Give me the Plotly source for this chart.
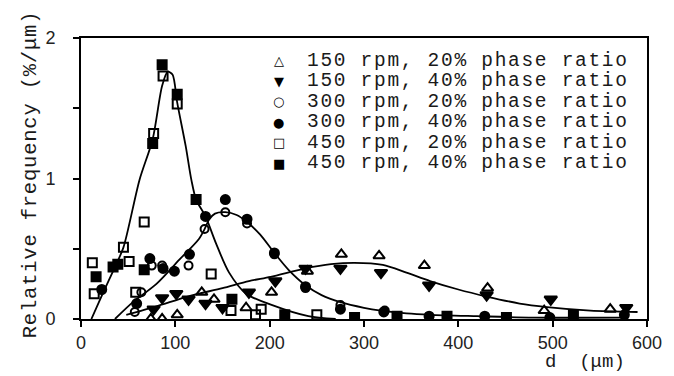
import plotly.graph_objects as go

# ---------------- data ----------------
# 150 rpm, 20% phase ratio (open up-triangles)
d_150_20 = [74, 86, 102, 128, 141, 175, 202, 240, 276, 316, 364, 431, 491, 561]
v_150_20 = [0.0, 0.0, 0.03, 0.19, 0.14, 0.08, 0.19, 0.34, 0.46, 0.45, 0.38, 0.22, 0.06, 0.07]
# 150 rpm, 40% phase ratio (filled down-triangles)
d_150_40 = [77, 86, 101, 114, 132, 150, 178, 206, 238, 275, 318, 369, 430, 498, 578]
v_150_40 = [0.07, 0.15, 0.18, 0.14, 0.11, 0.08, 0.19, 0.27, 0.36, 0.36, 0.33, 0.24, 0.17, 0.14, 0.08]
# 300 rpm, 20% phase ratio (open circles)
d_300_20 = [57, 64, 75, 86, 114, 131, 153, 176, 205, 238, 275, 322]
v_300_20 = [0.05, 0.19, 0.38, 0.38, 0.38, 0.64, 0.76, 0.68, 0.46, 0.22, 0.10, 0.06]
# 300 rpm, 40% phase ratio (filled circles)
d_300_40 = [22, 59, 73, 87, 99, 115, 132, 153, 176, 205, 238, 275, 321, 369, 428, 497, 576]
v_300_40 = [0.21, 0.11, 0.43, 0.36, 0.34, 0.46, 0.73, 0.85, 0.71, 0.47, 0.23, 0.07, 0.05, 0.02, 0.02, 0.01, 0.03]
# 450 rpm, 20% phase ratio (open squares)
d_450_20 = [12, 14, 45, 51, 58, 67, 77, 87, 102, 138, 159, 185, 191, 250]
v_450_20 = [0.40, 0.18, 0.51, 0.41, 0.19, 0.69, 1.32, 1.73, 1.53, 0.32, 0.06, 0.03, 0.07, 0.03]
# 450 rpm, 40% phase ratio (filled squares)
d_450_40 = [16, 34, 39, 67, 76, 86, 102, 122, 160, 216, 290, 335, 388, 451, 522]
v_450_40 = [0.30, 0.37, 0.39, 0.35, 1.25, 1.81, 1.60, 0.85, 0.14, 0.03, 0.01, 0.02, 0.02, 0.01, 0.03]

# fitted curves
c150_d = [48, 80, 113, 150, 178, 201, 238, 265, 290, 320, 345, 370, 400, 430, 465, 494, 540, 590]
c150_v = [0.03, 0.09, 0.16, 0.22, 0.27, 0.30, 0.36, 0.39, 0.40, 0.385, 0.33, 0.27, 0.21, 0.16, 0.11, 0.085, 0.06, 0.05]
c300_d = [36, 55, 80, 104, 125, 131, 136, 142, 153, 165, 176, 190, 205, 220, 238, 255, 275, 300, 318, 345, 370, 420, 480, 580]
c300_v = [0.0, 0.12, 0.25, 0.42, 0.57, 0.64, 0.71, 0.75, 0.76, 0.74, 0.69, 0.60, 0.47, 0.35, 0.24, 0.17, 0.12, 0.08, 0.06, 0.04, 0.03, 0.02, 0.01, 0.01]
c450_d = [11, 23, 36, 45, 62, 76, 86, 92, 97, 102, 111, 117, 122, 132, 143, 157, 175, 202, 241, 270]
c450_v = [0.0, 0.18, 0.37, 0.51, 0.99, 1.28, 1.66, 1.76, 1.74, 1.54, 1.23, 0.99, 0.85, 0.73, 0.54, 0.33, 0.18, 0.10, 0.02, 0.0]

x_ticks = [0, 100, 200, 300, 400, 500, 600]
y_ticks = [0, 0.5, 1, 1.5, 2]
y_tick_text = ["0", "", "1", "", "2"]

legend_labels = [
    "150 rpm, 20% phase ratio",
    "150 rpm, 40% phase ratio",
    "300 rpm, 20% phase ratio",
    "300 rpm, 40% phase ratio",
    "450 rpm, 20% phase ratio",
    "450 rpm, 40% phase ratio",
]
legend_symbols = ["\u25B3", "\u25BC", "\u25CB", "\u25CF", "\u25A1", "\u25A0"]

# ---------------- figure ----------------
W, H = 674, 376
ML, MR, MT, MB = 81, 24, 38, 57
PW, PH = W - ML - MR, H - MT - MB

MONO = "Liberation Mono"
TXT = "#1a1a1a"

fig = go.Figure()

for cd, cv in [(c150_d, c150_v), (c300_d, c300_v), (c450_d, c450_v)]:
    fig.add_trace(go.Scatter(x=cd, y=cv, mode="lines", showlegend=False,
                             line=dict(color="black", width=1.8, shape="spline", smoothing=0.8),
                             hoverinfo="skip"))

series = [
    (d_150_20, v_150_20, "triangle-up-open", legend_labels[0], 10),
    (d_150_40, v_150_40, "triangle-down", legend_labels[1], 11),
    (d_300_20, v_300_20, "circle-open", legend_labels[2], 8),
    (d_300_40, v_300_40, "circle", legend_labels[3], 9),
    (d_450_20, v_450_20, "square-open", legend_labels[4], 9),
    (d_450_40, v_450_40, "square", legend_labels[5], 9),
]
for dx, vy, sym, name, sz in series:
    fig.add_trace(go.Scatter(x=dx, y=vy, mode="markers", name=name, showlegend=False,
                             marker=dict(symbol=sym, size=sz, color="black",
                                         line=dict(color="black", width=2))))

# legend built from text
row0, row_gap = 61, 20.4
for i, (sym, lab) in enumerate(zip(legend_symbols, legend_labels)):
    py = row0 + i * row_gap
    fig.add_annotation(xref="paper", yref="paper", x=(280 - ML) / PW, y=(MT + PH - py) / PH,
                       text="<b>" + sym + "</b>", showarrow=False, xanchor="center", yanchor="middle",
                       font=dict(family="DejaVu Sans", size=13, color="black"))
    fig.add_annotation(xref="paper", yref="paper", x=(306 - ML) / PW, y=(MT + PH - py) / PH,
                       text='<span style="letter-spacing:1.7px">' + lab + "</span>",
                       showarrow=False, xanchor="left", yanchor="middle",
                       font=dict(family=MONO, size=19.5, color=TXT))

# axis titles
fig.add_annotation(xref="paper", yref="paper", x=(30 - ML) / PW, y=(MT + PH - 174) / PH,
                   text='<span style="letter-spacing:0.8px">Relative frequency (%/\u03bcm)</span>',
                   textangle=-90, showarrow=False,
                   xanchor="center", yanchor="middle",
                   font=dict(family=MONO, size=20.5, color=TXT))
fig.add_annotation(xref="paper", yref="paper", x=(588 - ML) / PW, y=(MT + PH - 362) / PH,
                   text="d\u00a0\u00a0(\u03bcm)", showarrow=False,
                   xanchor="center", yanchor="middle",
                   font=dict(family=MONO, size=19, color=TXT))

fig.update_layout(
    width=W, height=H, autosize=False,
    margin=dict(l=ML, r=MR, t=MT, b=MB, pad=0),
    paper_bgcolor="white", plot_bgcolor="white",
    showlegend=False,
    xaxis=dict(range=[0, 600], tickvals=x_ticks, ticks="outside", ticklen=6, tickwidth=1.5,
               tickcolor="black", showline=True, linecolor="black", linewidth=2, mirror=True,
               showgrid=False, zeroline=False,
               tickfont=dict(family="Liberation Sans", size=18, color="#222"),
               ticklabelstandoff=0),
    yaxis=dict(range=[0, 2], tickvals=y_ticks, ticktext=y_tick_text,
               ticks="outside", ticklen=6,
               tickwidth=1.5, tickcolor="black", showline=True, linecolor="black", linewidth=2,
               mirror=True, showgrid=False, zeroline=False,
               tickfont=dict(family="Liberation Sans", size=18, color="#222"),
               ticklabelstandoff=14),
)

fig.write_html("out.html")
